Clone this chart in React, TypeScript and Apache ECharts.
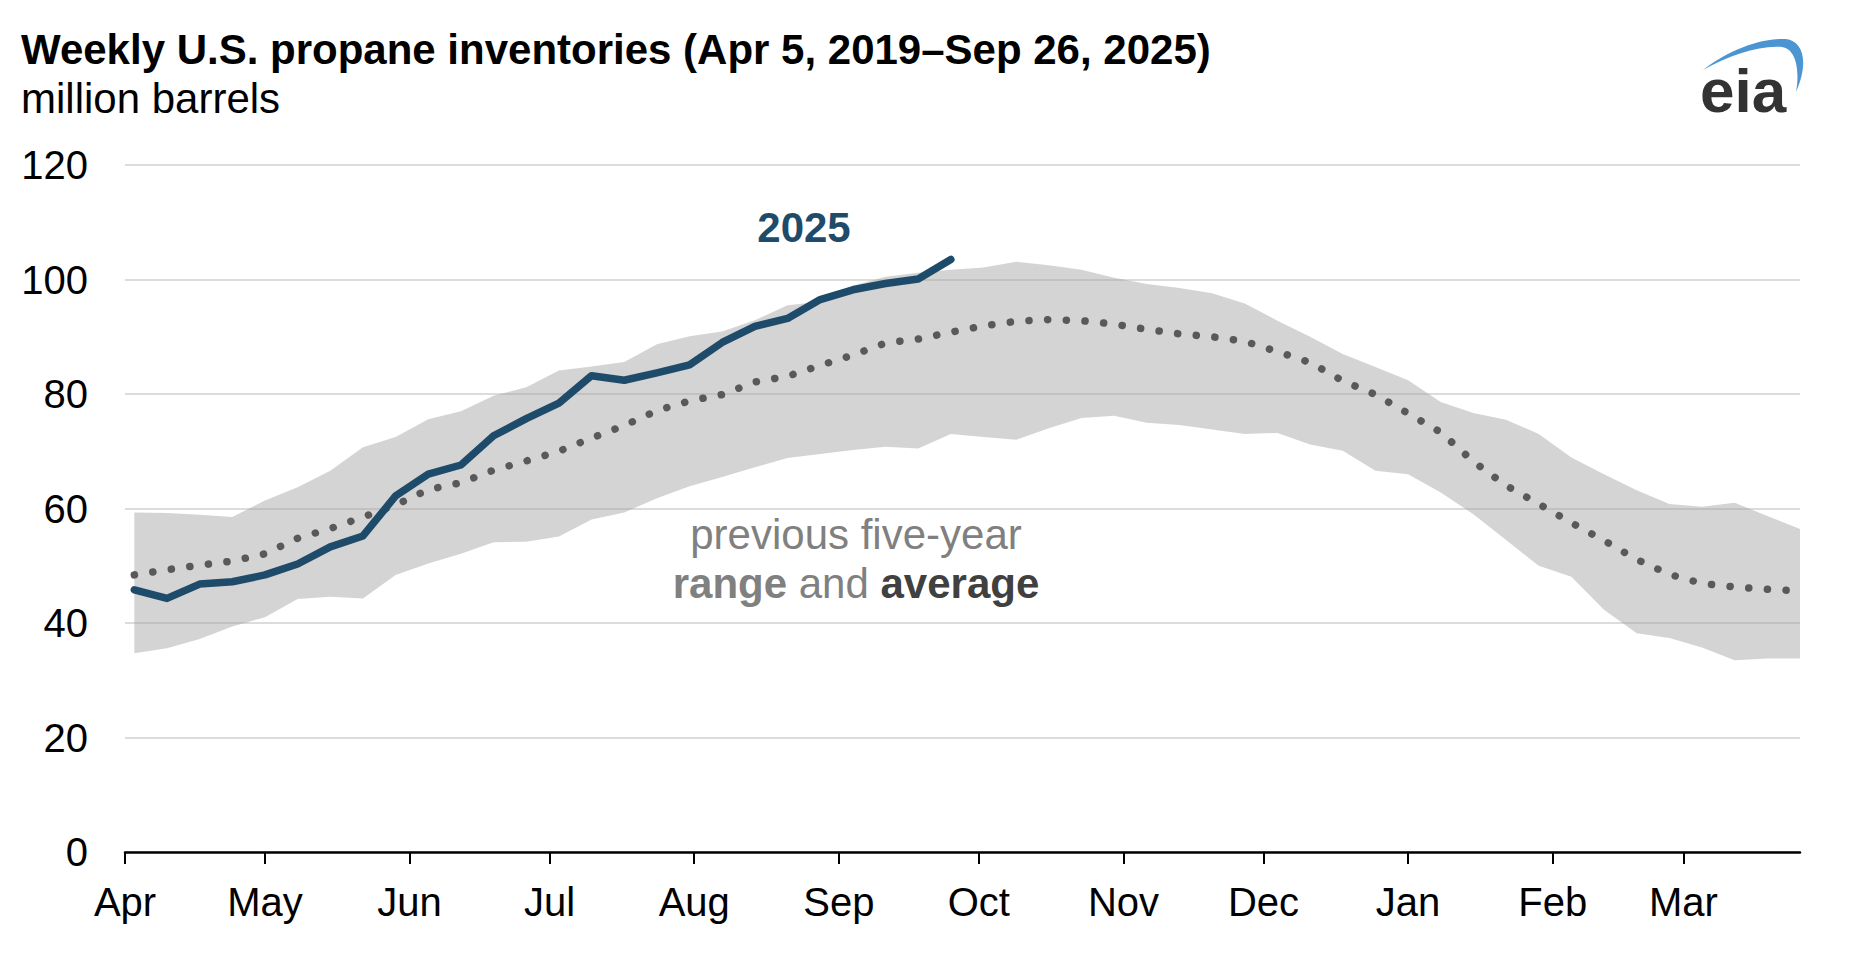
import React, { useEffect, useRef } from "react";
import * as echarts from "echarts";

// Weekly positions on a reference year (Apr -> Mar)
const weekDates = [
  "2025-04-03", "2025-04-10", "2025-04-17", "2025-04-24",
  "2025-05-01", "2025-05-08", "2025-05-15", "2025-05-22", "2025-05-29",
  "2025-06-05", "2025-06-12", "2025-06-19", "2025-06-26",
  "2025-07-03", "2025-07-10", "2025-07-17", "2025-07-24", "2025-07-31",
  "2025-08-07", "2025-08-14", "2025-08-21", "2025-08-28",
  "2025-09-04", "2025-09-11", "2025-09-18", "2025-09-25",
  "2025-10-02", "2025-10-09", "2025-10-16", "2025-10-23", "2025-10-30",
  "2025-11-06", "2025-11-13", "2025-11-20", "2025-11-27",
  "2025-12-04", "2025-12-11", "2025-12-18", "2025-12-25",
  "2026-01-01", "2026-01-08", "2026-01-15", "2026-01-22", "2026-01-29",
  "2026-02-05", "2026-02-12", "2026-02-19", "2026-02-26",
  "2026-03-05", "2026-03-12", "2026-03-19", "2026-03-26",
];

const monthTicks = [
  "2025-04-01", "2025-05-01", "2025-06-01", "2025-07-01", "2025-08-01", "2025-09-01",
  "2025-10-01", "2025-11-01", "2025-12-01", "2026-01-01", "2026-02-01", "2026-03-01",
];
const monthLabels = ["Apr", "May", "Jun", "Jul", "Aug", "Sep", "Oct", "Nov", "Dec", "Jan", "Feb", "Mar"];

// million barrels
const inventory2025 = [
  45.8, 44.3, 46.8, 47.2, 48.4, 50.3, 53.3, 55.2, 62.2, 66.0, 67.6, 72.7, 75.7,
  78.4, 83.2, 82.4, 83.7, 85.1, 89.0, 91.8, 93.2, 96.5, 98.2, 99.3, 100.1, 103.5,
];

const fiveYearAverage = [
  48.4, 49.3, 50.1, 50.8, 52.1, 54.8, 56.5, 58.5, 60.6, 63.3, 64.5, 66.7, 68.3,
  70.0, 72.3, 74.5, 77.1, 78.8, 79.9, 82.1, 83.1, 85.0, 86.8, 88.9, 89.6, 90.8,
  91.9, 92.7, 93.0, 92.8, 92.2, 91.3, 90.5, 90.0, 89.2, 87.4, 85.5, 82.3, 79.9,
  76.6, 73.3, 68.2, 64.0, 60.8, 57.5, 54.4, 51.1, 48.5, 46.9, 46.3, 45.9, 45.6,
];

const fiveYearHigh = [
  59.3, 59.2, 58.9, 58.5, 61.4, 63.7, 66.6, 70.7, 72.5, 75.6, 77.0, 79.7, 81.2,
  84.1, 84.8, 85.6, 88.7, 90.1, 90.9, 92.9, 95.5, 96.1, 98.9, 100.5, 101.2, 101.7,
  102.1, 103.1, 102.5, 101.7, 100.3, 99.2, 98.5, 97.6, 95.8, 92.8, 90.0, 87.0, 84.7,
  82.4, 78.6, 76.7, 75.5, 73.0, 68.9, 66.0, 63.2, 60.8, 60.3, 61.0, 58.7, 56.4,
];

const fiveYearLow = [
  34.7, 35.6, 37.2, 39.4, 41.0, 44.2, 44.6, 44.3, 48.4, 50.4, 52.1, 54.1, 54.2,
  55.1, 58.1, 59.3, 61.8, 63.9, 65.5, 67.2, 68.8, 69.5, 70.2, 70.8, 70.5, 73.0,
  72.5, 72.0, 74.0, 75.8, 76.2, 75.0, 74.6, 73.8, 73.0, 73.2, 71.2, 70.1, 66.6,
  66.0, 62.8, 59.0, 54.5, 50.0, 48.1, 42.3, 38.2, 37.4, 35.7, 33.5, 33.8, 33.8,
];

const FONT = "'Liberation Sans', Arial, Helvetica, sans-serif";
const SWOOSH =
  "M3 35 C30 14 62 3 85 4 C102 5 110 25 96 57 C100 35 96 14 82 12 C60 10 30 20 3 35 Z";

const DAY = 86400000;
const toTs = (s: string) => {
  const [y, m, d] = s.split("-").map(Number);
  return Date.UTC(y, m - 1, d);
};
const origin = toTs(monthTicks[0]);
const toDay = (s: string) => Math.round((toTs(s) - origin) / DAY);

let swooshRegistered = false;

export default function App() {
  const ref = useRef<HTMLDivElement>(null);

  useEffect(() => {
    if (!ref.current) return;
    if (!swooshRegistered) {
      echarts.graphic.registerShape("eiaSwoosh", echarts.graphic.extendPath(SWOOSH, {}) as any);
      swooshRegistered = true;
    }
    const chart = echarts.init(ref.current, null, { renderer: "svg" });

    const days = weekDates.map(toDay);
    const tickDays = monthTicks.map(toDay);
    const labelFor = (v: number) => {
      const idx = tickDays.indexOf(Math.round(v));
      return idx >= 0 ? monthLabels[idx] : "";
    };

    const option: any = {
      animation: false,
      backgroundColor: "#ffffff",
      textStyle: { fontFamily: FONT },
      grid: { left: 125, right: 66, top: 165, bottom: 112, containLabel: false },
      xAxis: {
        type: "value",
        min: 0,
        max: days[days.length - 1],
        axisLine: { show: true, onZero: false, lineStyle: { color: "#000", width: 2.5 } },
        axisTick: {
          show: true,
          customValues: tickDays,
          length: 12,
          inside: false,
          lineStyle: { color: "#000", width: 2 },
        },
        axisLabel: {
          show: true,
          customValues: tickDays,
          formatter: (v: number) => labelFor(v),
          fontSize: 40,
          color: "#000",
          fontFamily: FONT,
          margin: 30,
          hideOverlap: false,
          showMinLabel: true,
          showMaxLabel: true,
        },
        splitLine: { show: false },
      },
      yAxis: {
        type: "value",
        min: 0,
        max: 120,
        interval: 20,
        axisLine: { show: false },
        axisTick: { show: false },
        axisLabel: { fontSize: 40, color: "#000", fontFamily: FONT, margin: 37 },
        splitLine: { show: true, lineStyle: { color: "#dcdcdc", width: 2 } },
      },
      series: [
        {
          name: "previous five-year range",
          type: "custom",
          data: days.map((d, i) => [d, fiveYearLow[i], fiveYearHigh[i]]),
          encode: { x: 0, y: [1, 2] },
          silent: true,
          z: 1,
          renderItem: (params: any, api: any) => {
            if (params.dataIndex !== 0) return null;
            const pts: number[][] = [];
            for (let i = 0; i < days.length; i++) pts.push(api.coord([days[i], fiveYearHigh[i]]));
            for (let i = days.length - 1; i >= 0; i--) pts.push(api.coord([days[i], fiveYearLow[i]]));
            return {
              type: "polygon",
              shape: { points: pts },
              style: { fill: "rgba(160,160,160,0.45)", stroke: "none" },
              silent: true,
            };
          },
        },
        {
          name: "five-year average",
          type: "line",
          data: days.map((t, i) => [t, fiveYearAverage[i]]),
          symbol: "none",
          silent: true,
          lineStyle: { color: "#595959", width: 7.5, type: [0.1, 18.6], cap: "round" },
          z: 3,
        },
        {
          name: "2025",
          type: "line",
          data: inventory2025.map((v, i) => [days[i], v]),
          symbol: "none",
          silent: true,
          lineStyle: { color: "#1f4b6b", width: 7.5, cap: "round", join: "round" },
          z: 4,
        },
      ],
      graphic: [
        {
          type: "text",
          left: 21,
          top: 28,
          z: 100,
          style: {
            text: "Weekly U.S. propane inventories (Apr 5, 2019\u2013Sep 26, 2025)",
            fontSize: 42,
            fontWeight: "bold",
            fontFamily: FONT,
            fill: "#000",
          },
        },
        {
          type: "text",
          left: 21,
          top: 77,
          z: 100,
          style: {
            text: "million barrels",
            fontSize: 42,
            fontFamily: FONT,
            fill: "#000",
          },
        },
        {
          type: "text",
          x: 804,
          y: 227,
          z: 100,
          style: {
            text: "2025",
            fontSize: 42,
            fontWeight: "bold",
            fontFamily: FONT,
            fill: "#1f4b6b",
            align: "center",
            verticalAlign: "middle",
          },
        },
        {
          type: "text",
          x: 856,
          y: 559,
          z: 100,
          style: {
            text: "{g|previous five-year}\n{gb|range}{g| and }{db|average}",
            align: "center",
            verticalAlign: "middle",
            fontFamily: FONT,
            fill: "#808080",
            rich: {
              g: { fontSize: 42, fill: "#808080", fontFamily: FONT, lineHeight: 49 },
              gb: { fontSize: 42, fill: "#808080", fontWeight: "bold", fontFamily: FONT, lineHeight: 49 },
              db: { fontSize: 42, fill: "#404040", fontWeight: "bold", fontFamily: FONT, lineHeight: 49 },
            },
          },
        },
        {
          type: "eiaSwoosh",
          x: 1700,
          y: 35,
          z: 100,
          style: { fill: "#4a95d2" },
        },
        {
          type: "text",
          x: 1700,
          y: 90,
          z: 100,
          style: {
            text: "eia",
            fontSize: 62,
            fontWeight: "bold",
            fontFamily: FONT,
            fill: "#333333",
            align: "left",
            verticalAlign: "middle",
          },
        },
      ],
    };

    chart.setOption(option);
    return () => chart.dispose();
  }, []);

  return (
    <div
      ref={ref}
      style={{ position: "fixed", left: 0, top: 0, width: 1866, height: 964, background: "#fff" }}
    />
  );
}
